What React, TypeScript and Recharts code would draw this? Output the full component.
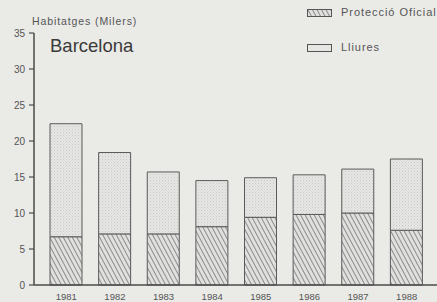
import React from "react";
import { BarChart, Bar, XAxis, YAxis } from "recharts";

const years = ["1981", "1982", "1983", "1984", "1985", "1986", "1987", "1988"];
const proteccioOficial = [6.7, 7.1, 7.1, 8.1, 9.4, 9.8, 10.0, 7.6];
const lliures = [15.7, 11.3, 8.6, 6.4, 5.5, 5.5, 6.1, 9.9];
const yTicks = [0, 5, 10, 15, 20, 25, 30, 35];

const data = years.map((y, i) => ({ year: y, po: proteccioOficial[i], ll: lliures[i] }));

const BG = "#eaeae7";
const INK = "#4a4a4a";
const FONT = "'Liberation Sans', Arial, sans-serif";

const Patterns = () => (
  <defs>
    <pattern id="hatch" width="4" height="4" patternUnits="userSpaceOnUse" patternTransform="rotate(-28)">
      <rect width="4" height="4" fill="#e0e0de" />
      <line x1="0" y1="0" x2="0" y2="4" stroke="#707070" strokeWidth="1.5" />
    </pattern>
    <pattern id="dots" width="3" height="3" patternUnits="userSpaceOnUse">
      <rect width="3" height="3" fill="#e6e6e4" />
      <rect x="0" y="0" width="1" height="1" fill="#c8c8c6" />
      <rect x="1.5" y="1.5" width="1" height="1" fill="#d2d2d0" />
    </pattern>
  </defs>
);

export default function App() {
  return (
    <div style={{ position: "absolute", left: 0, top: 0, width: 437, height: 302, background: BG, fontFamily: FONT, overflow: "hidden" }}>
      <BarChart width={437} height={302} data={data} margin={{ top: 33, right: 0, bottom: 0, left: 0 }} barCategoryGap={15} barSize={32}>
        <Patterns />
        <XAxis
          dataKey="year"
          height={17}
          padding={{ left: 8, right: 6 }}
          tickLine={false}
          axisLine={{ stroke: INK, strokeWidth: 1.5 }}
          tick={{ fill: "#555", fontSize: 9.5, fontFamily: FONT }}
          tickMargin={2}
          interval={0}
        />
        <YAxis
          width={34}
          domain={[0, 35]}
          ticks={yTicks}
          tickSize={5}
          tickMargin={4}
          axisLine={{ stroke: INK, strokeWidth: 1.5 }}
          tickLine={{ stroke: INK, strokeWidth: 1.2 }}
          tick={{ fill: "#555", fontSize: 10, fontFamily: FONT }}
          interval={0}
        />
        <Bar dataKey="po" stackId="a" fill="url(#hatch)" stroke="#5a5a5a" strokeWidth={1} isAnimationActive={false} />
        <Bar dataKey="ll" stackId="a" fill="url(#dots)" stroke="#5a5a5a" strokeWidth={1} isAnimationActive={false} />
      </BarChart>
      <div style={{ position: "absolute", left: 32, top: 15, fontSize: 10.5, color: "#555", letterSpacing: 0.9, whiteSpace: "nowrap" }}>
        Habitatges (Milers)
      </div>
      <div style={{ position: "absolute", left: 50, top: 35, fontSize: 18.5, color: "#3a3a3a", whiteSpace: "nowrap" }}>
        Barcelona
      </div>
      <svg style={{ position: "absolute", left: 307, top: 9 }} width={26} height={9}>
        <Patterns />
        <rect x={0.5} y={0.5} width={24} height={7} fill="url(#hatch)" stroke="#555" />
      </svg>
      <div style={{ position: "absolute", left: 341, top: 6, fontSize: 11, color: "#555", whiteSpace: "nowrap", letterSpacing: 0.95 }}>
        Protecció Oficial
      </div>
      <svg style={{ position: "absolute", left: 307, top: 44 }} width={26} height={9}>
        <rect x={0.5} y={0.5} width={24} height={7} fill="#e6e6e4" stroke="#555" />
      </svg>
      <div style={{ position: "absolute", left: 341, top: 41, fontSize: 11, color: "#555", whiteSpace: "nowrap", letterSpacing: 0.95 }}>
        Lliures
      </div>
    </div>
  );
}
